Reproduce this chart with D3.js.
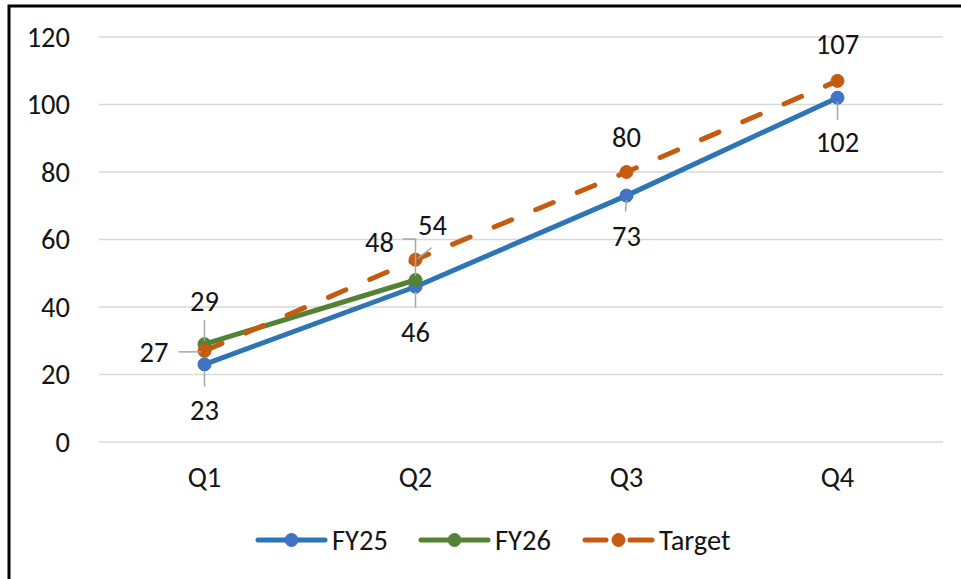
<!DOCTYPE html>
<html>
<head>
<meta charset="utf-8">
<script src="https://cdn.jsdelivr.net/npm/d3@7"></script>
<style>
  html, body { margin: 0; padding: 0; background: #fff; }
  svg { display: block; }
  text { font-family: Carlito, Lato, "Open Sans", sans-serif; fill: #141414; }
</style>
</head>
<body>
<svg id="chart" width="961" height="579"></svg>
<script>
// Quarterly values
const categories = ["Q1", "Q2", "Q3", "Q4"];
const fy25 = [23, 46, 73, 102];
const fy26 = [29, 48];
const target = [27, 54, 80, 107];
const yTicks = [0, 20, 40, 60, 80, 100, 120];
const seriesNames = ["FY25", "FY26", "Target"];

const FONT = "Carlito, Lato, 'Open Sans', sans-serif";
const FS = 28.5;

const series = [
  { name: seriesNames[0], values: fy25, color: "#2E75B6", marker: "#4472C4", dash: null },
  { name: seriesNames[1], values: fy26, color: "#548235", marker: "#548235", dash: null },
  { name: seriesNames[2], values: target, color: "#C55A11", marker: "#C55A11", dash: "19,26" }
];

// Label placement per point: offset from the point and optional leader line (pixels)
const labelLayout = {
  FY25: [
    { dx: 0, dy: 46, anchor: "middle", leader: [[0, 7], [0, 22]] },
    { dx: 0, dy: 46, anchor: "middle", leader: [[0, 5], [0, 21]] },
    { dx: 0, dy: 41, anchor: "middle", leader: [[0, 4], [-1, 16]] },
    { dx: 0, dy: 45, anchor: "middle", leader: [[0, 4], [0, 22]] }
  ],
  FY26: [
    { dx: 0, dy: -43, anchor: "middle", leader: [[0, -24], [0, -3]] },
    { dx: -36, dy: -38, anchor: "middle", leader: [[-13, -41], [0, -41], [0, -4]] }
  ],
  Target: [
    { dx: -36, dy: 2, anchor: "end", leader: [[-26, 1], [-3, 1]] },
    { dx: 17, dy: -34, anchor: "middle", leader: [[2, -1], [16, -12]] },
    { dx: 0, dy: -35, anchor: "middle", leader: null },
    { dx: 0, dy: -36, anchor: "middle", leader: null }
  ]
};

const svg = d3.select("#chart");

// Chart frame (extends past the right and bottom edges)
svg.append("rect")
  .attr("x", 9).attr("y", 6)
  .attr("width", 1000).attr("height", 700)
  .attr("fill", "none").attr("stroke", "#000").attr("stroke-width", 3);

const plot = { left: 99, right: 943, top: 37, bottom: 442 };

const x = d3.scaleBand().domain(categories).range([plot.left, plot.right]);
const y = d3.scaleLinear().domain([0, 120]).range([plot.bottom, plot.top]);
const cx = c => x(c) + x.bandwidth() / 2;

// Gridlines
svg.append("g").selectAll("line").data(yTicks).join("line")
  .attr("x1", plot.left).attr("x2", plot.right)
  .attr("y1", d => y(d)).attr("y2", d => y(d))
  .attr("stroke", "#d9d9d9").attr("stroke-width", 1.5);

// Y axis labels
const yAxis = svg.append("g").attr("transform", `translate(${plot.left},0)`)
  .call(d3.axisLeft(y).tickValues(yTicks).tickSize(0).tickPadding(29));
yAxis.select(".domain").remove();
yAxis.selectAll("text").attr("font-size", FS).attr("fill", "#141414")
  .style("font-family", FONT);

// X axis labels
const xAxis = svg.append("g").attr("transform", `translate(0,${plot.bottom})`)
  .call(d3.axisBottom(x).tickSize(0).tickPadding(25));
xAxis.select(".domain").remove();
xAxis.selectAll("text").attr("font-size", FS).attr("fill", "#141414")
  .style("font-family", FONT);

// Series lines, markers
const line = d3.line().x((d, i) => cx(categories[i])).y(d => y(d));

series.forEach(s => {
  svg.append("path")
    .datum(s.values)
    .attr("d", line)
    .attr("fill", "none")
    .attr("stroke", s.color)
    .attr("stroke-width", 5)
    .attr("stroke-linejoin", "round")
    .attr("stroke-linecap", "round")
    .attr("stroke-dasharray", s.dash);
});

series.forEach(s => {
  svg.append("g").selectAll("circle").data(s.values).join("circle")
    .attr("cx", (d, i) => cx(categories[i]))
    .attr("cy", d => y(d))
    .attr("r", 6.5)
    .attr("fill", s.marker)
    .attr("stroke", s.color).attr("stroke-width", 1);
});

// Data labels with leader lines
series.forEach(s => {
  const layout = labelLayout[s.name];
  s.values.forEach((v, i) => {
    const px = cx(categories[i]), py = y(v);
    const L = layout[i];
    if (L.leader) {
      svg.append("polyline")
        .attr("points", L.leader.map(p => `${px + p[0]},${py + p[1]}`).join(" "))
        .attr("fill", "none").attr("stroke", "#a6a6a6").attr("stroke-width", 1.5);
    }
    svg.append("text")
      .attr("x", px + L.dx).attr("y", py + L.dy)
      .attr("text-anchor", L.anchor)
      .attr("dominant-baseline", "central")
      .attr("font-size", FS)
      .text(v);
  });
});

// Legend
const legendY = 540;
const legendX = [258, 421, 585];
series.forEach((s, i) => {
  const g = svg.append("g").attr("transform", `translate(${legendX[i]},${legendY})`);
  if (s.dash) {
    g.append("line").attr("x1", 0).attr("x2", 21).attr("y1", 0).attr("y2", 0)
      .attr("stroke", s.color).attr("stroke-width", 5).attr("stroke-linecap", "round");
    g.append("line").attr("x1", 45).attr("x2", 67).attr("y1", 0).attr("y2", 0)
      .attr("stroke", s.color).attr("stroke-width", 5).attr("stroke-linecap", "round");
  } else {
    g.append("line").attr("x1", 0).attr("x2", 67).attr("y1", 0).attr("y2", 0)
      .attr("stroke", s.color).attr("stroke-width", 5).attr("stroke-linecap", "round");
  }
  g.append("circle").attr("cx", 33.5).attr("cy", 0).attr("r", 6.5)
    .attr("fill", s.marker).attr("stroke", s.color).attr("stroke-width", 1);
  g.append("text").attr("x", 74).attr("y", 0)
    .attr("dominant-baseline", "central").attr("font-size", FS)
    .text(s.name);
});
</script>
</body>
</html>
